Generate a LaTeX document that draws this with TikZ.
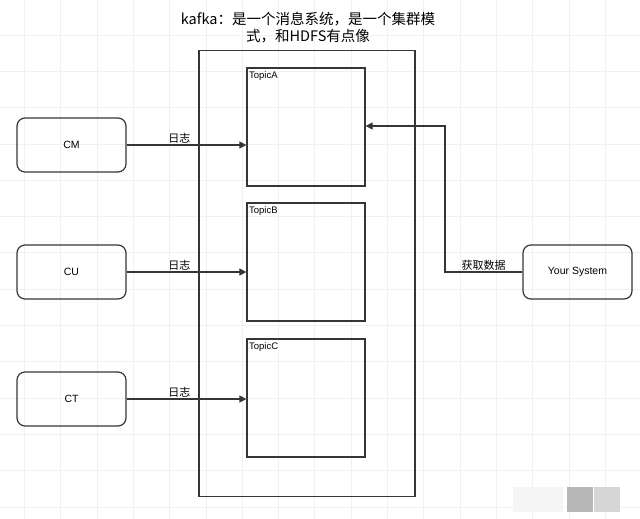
\documentclass[tikz,border=0pt]{standalone}
\usepackage{fontspec}
\setmainfont{Liberation Sans}
\newfontfamily\cjk{Noto Sans CJK SC}
\usetikzlibrary{arrows.meta}
\definecolor{ln}{HTML}{363636}
\definecolor{gridc}{HTML}{F1F1F1}
\begin{document}
\begin{tikzpicture}[x=1pt,y=-1pt,
  gridline/.style={gridc,line width=0.8pt},
  src/.style={draw=ln,line width=1.2pt,rounded corners=8pt,minimum width=109pt,minimum height=54pt,inner sep=0pt,font=\fontsize{10.5}{12}\selectfont},
  topic/.style={draw=ln,line width=1.2pt,minimum width=118pt,minimum height=118pt,inner sep=0pt},
  conn/.style={draw=ln,line width=1.1pt,-{Triangle[length=7pt,width=7pt]}},
  lbl/.style={font=\cjk\fontsize{11}{13}\selectfont,inner sep=1pt},
  tlbl/.style={font=\fontsize{9.5}{11}\selectfont,anchor=north west,inner xsep=2.5pt,inner ysep=4pt}]
\useasboundingbox (0,0) rectangle (640,519);
\fill[white] (0,0) rectangle (640,519);
% grid
\foreach \i in {0,...,17} {\draw[gridline] ({24.4+36.3*\i},0) -- ({24.4+36.3*\i},519);}
\foreach \j in {0,...,14} {\draw[gridline] (0,{-1.3+36.3*\j}) -- (640,{-1.3+36.3*\j});}
% title
\node[font=\cjk\fontsize{14.5}{17}\selectfont,align=center] (title) at (308,28) {kafka：是一个消息系统，是一个集群模\\式，和HDFS有点像};
% kafka container
\node[draw=ln,line width=1.2pt,minimum width=216pt,minimum height=446pt,inner sep=0pt] (kafka) at (307,273.5) {};
% topics
\node[topic] (ta) at (306,127) {};
\node[topic] (tb) at (306,262) {};
\node[topic] (tc) at (306,398) {};
\node[tlbl] (tal) at (ta.north west) {TopicA};
\node[tlbl] (tbl) at (tb.north west) {TopicB};
\node[tlbl] (tcl) at (tc.north west) {TopicC};
% sources
\node[src] (cm) at (71.5,145) {CM};
\node[src] (cu) at (71.5,272) {CU};
\node[src] (ct) at (71.5,399) {CT};
\node[src] (ys) at (577.5,272) {Your System};
% arrows
\draw[conn] (cm.east) -- node[lbl,above,pos=0.44] {日志} (cm.east -| ta.west);
\draw[conn] (cu.east) -- node[lbl,above,pos=0.44] {日志} (cu.east -| tb.west);
\draw[conn] (ct.east) -- node[lbl,above,pos=0.44] {日志} (ct.east -| tc.west);
\coordinate (bend1) at (445,272);
\coordinate (bend2) at (445,126);
\draw[conn] (ys.west) -- node[lbl,above,pos=0.5] {获取数据} (bend1) -- (bend2) -- (bend2 -| ta.east);
% watermark squares
\fill[black!4] (513,487) rectangle (563,512);
\fill[black!28] (567,487) rectangle (593,512);
\fill[black!16] (594,487) rectangle (620,512);
\end{tikzpicture}
\end{document}
